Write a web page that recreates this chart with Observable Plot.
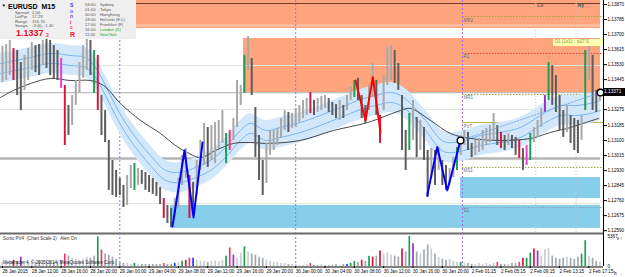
<!DOCTYPE html>
<html><head><meta charset="utf-8">
<script src="https://cdn.jsdelivr.net/npm/d3@7"></script>
<script src="https://cdn.jsdelivr.net/npm/@observablehq/plot@0.6"></script>
<style>
body{margin:0;background:#fff;}
#wrap{position:relative;width:625px;height:277px;overflow:hidden;font-family:"Liberation Sans",Arial,sans-serif;background:#fff;}
#wrap svg{position:absolute;left:0;}
.t{position:absolute;white-space:pre;line-height:1;}
</style></head><body><div id="wrap"></div>
<script>
// ---------------- DATA ----------------
const xTickHours = [0,4,8,12,16,20,24,28,32,36,40,44,48,52,56,60,64,68,72,76,80];
const xTickLabels = ["28 Jan 2015","28 Jan 12:00","28 Jan 16:00","28 Jan 20:00","29 Jan 00:00","29 Jan 04:00","29 Jan 08:00","29 Jan 12:00","29 Jan 16:00","29 Jan 20:00","30 Jan 00:00","30 Jan 04:00","30 Jan 08:00","30 Jan 12:00","30 Jan 16:00","30 Jan 20:00","2 Feb 01:15","2 Feb 05:15","2 Feb 09:15","2 Feb 13:15","2 Feb 17:15"];
// 1.13360 is hidden behind the current-price box in the reference
const yTickValues = [1.13870,1.13785,1.13700,1.13615,1.13530,1.13445,1.13275,1.13185,1.13100,1.13015,1.12930,1.12845,1.12760,1.12675,1.12590];
const yTickLabels = ["1.13870","1.13785","1.13700","1.13615","1.13530","1.13445","1.13275","1.13185","1.13100","1.13015","1.12930","1.12845","1.12760","1.12675","1.12590"];
const currentPrice = 1.13371;

// price bars, one every 30 minutes (hour = index / 2)
const barHigh = [1.13633,1.13644,1.13667,1.13621,1.13610,1.13542,1.13582,1.13621,1.13655,1.13638,
1.13644,1.13667,1.13678,1.13667,1.13638,1.13610,1.13565,1.13412,1.13299,1.13355,
1.13440,1.13542,1.13638,1.13689,1.13667,1.13610,1.13582,1.13355,1.13270,1.13101,
1.12987,1.12931,1.12886,1.12846,1.12902,1.12959,1.12970,1.12942,1.12931,1.12919,
1.12902,1.12886,1.12863,1.12835,1.12772,1.12733,1.12716,1.12772,1.12886,1.13016,
1.13055,1.12902,1.12863,1.12987,1.13101,1.13197,1.13174,1.13185,1.13202,1.13214,
1.13270,1.13140,1.13157,1.13225,1.13440,1.13412,1.13582,1.13689,1.13565,1.13287,
1.13129,1.12987,1.13084,1.13157,1.13157,1.13169,1.13225,1.13270,1.13259,1.13253,
1.13282,1.13299,1.13327,1.13338,1.13372,1.13327,1.13338,1.13350,1.13355,1.13338,
1.13316,1.13304,1.13327,1.13299,1.13355,1.13401,1.13440,1.13452,1.13355,1.13299,
1.13412,1.13536,1.13440,1.13242,1.13468,1.13627,1.13638,1.13610,1.13536,1.13355,
1.13157,1.13253,1.13327,1.13231,1.13214,1.13174,1.13044,1.13055,1.13044,1.13061,
1.12987,1.12959,1.12942,1.13004,1.13061,1.13129,1.13157,1.13146,1.13084,1.13101,
1.13112,1.13157,1.13169,1.13185,1.13253,1.13185,1.13146,1.13129,1.13140,1.13129,
1.13118,1.13101,1.13055,1.13072,1.13140,1.13174,1.13214,1.13282,1.13355,1.13542,
1.13525,1.13468,1.13355,1.13270,1.13299,1.13242,1.13225,1.13214,1.13242,1.13610,
1.13638,1.13582,1.13384,1.13395];
const barLow = [1.13429,1.13440,1.13468,1.13440,1.13355,1.13270,1.13384,1.13440,1.13497,1.13485,
1.13468,1.13525,1.13508,1.13468,1.13452,1.13440,1.13395,1.13072,1.13129,1.13185,
1.13299,1.13372,1.13452,1.13497,1.13468,1.13367,1.13270,1.13129,1.13089,1.12818,
1.12789,1.12778,1.12789,1.12721,1.12733,1.12829,1.12818,1.12846,1.12852,1.12818,
1.12806,1.12795,1.12784,1.12738,1.12659,1.12631,1.12608,1.12648,1.12716,1.12846,
1.12886,1.12659,1.12693,1.12789,1.12931,1.12959,1.12948,1.12987,1.12970,1.13055,
1.13084,1.12970,1.13044,1.13101,1.13174,1.13299,1.13367,1.13497,1.13355,1.13004,
1.12874,1.12789,1.12857,1.13016,1.13044,1.13072,1.13112,1.13157,1.13146,1.13169,
1.13174,1.13202,1.13225,1.13242,1.13253,1.13242,1.13259,1.13270,1.13282,1.13259,
1.13242,1.13225,1.13214,1.13225,1.13270,1.13327,1.13344,1.13327,1.13225,1.13197,
1.13270,1.13344,1.13242,1.13084,1.13270,1.13412,1.13440,1.13423,1.13384,1.13044,
1.12931,1.13044,1.13101,1.13004,1.13044,1.12987,1.12778,1.12886,1.12846,1.12931,
1.12846,1.12818,1.12846,1.12891,1.12931,1.13016,1.13072,1.13044,1.13004,1.13016,
1.13033,1.13044,1.13072,1.13089,1.13101,1.13072,1.13055,1.13044,1.13072,1.13055,
1.13016,1.12999,1.12931,1.12959,1.12987,1.13089,1.13118,1.13174,1.13259,1.13327,
1.13299,1.13259,1.13157,1.13118,1.13146,1.13084,1.13044,1.13027,1.13101,1.13270,
1.13440,1.13270,1.13259,1.13327];
const barSignal = {3:"r",16:"m",17:"r",25:"g",26:"r",36:"g",44:"r",51:"r",61:"g",62:"k",66:"g",84:"r",96:"g",103:"r",111:"g",124:"g",136:"r",141:"r",143:"m",144:"g",148:"p",149:"g",159:"g"};

const volume = [740,740,925,1110,925,1665,925,740,925,740,
925,740,1110,925,740,925,1110,2220,1850,1480,
1295,1110,1295,1665,1480,1850,5300,2960,2220,2035,
1665,1295,740,555,555,370,555,370,370,370,
370,370,370,370,555,370,370,555,740,925,
1110,1480,1480,1110,925,925,740,925,925,925,
1110,1850,3330,2035,1480,2405,3515,2590,2220,2035,
1665,1480,1110,925,740,740,555,555,370,370,
370,185,185,370,555,185,185,370,185,185,
185,370,185,370,370,555,925,740,1110,925,
1850,1665,1850,2775,2220,2405,2035,1850,1665,3145,
2590,5367,4070,2590,2220,2960,3885,3145,2220,1665,
1295,1110,1295,925,740,740,555,555,370,370,
555,370,555,370,555,740,370,370,370,555,
555,740,1480,1480,2405,3145,2775,1850,2960,3145,
1850,1480,1295,1480,1665,1480,1295,1665,2220,4625,
1850,1480,925,740];
const volumeMax = 5367;
const volSignal = {3:"r",5:"p",17:"k",26:"g",27:"k",36:"g",44:"k",47:"b",49:"g",50:"r",51:"k",52:"b",61:"g",62:"k",63:"p",66:"g",84:"k",94:"b",95:"g",96:"g",98:"r",100:"g",101:"r",103:"r",109:"r",111:"g",112:"p",125:"g",135:"k",141:"k",142:"r",143:"g",144:"g",145:"r",146:"p",158:"g",159:"g"};

// moving average
const maHour = [-0.27,1.50,3.82,6.55,9.28,12.00,13.78,16.10,18.83,21.56,23.60,24.97,27.01,29.06,31.51,33.83,36.15,40.65,45.16,49.80,54.30,55.66,58.39,61.12,63.85,67.94,72.03,74.76,77.49,79.54,81.31];
const maPrice = [1.13344,1.13384,1.13423,1.13452,1.13440,1.13440,1.13412,1.13310,1.13214,1.13140,1.13072,1.13038,1.13004,1.13044,1.13084,1.13089,1.13084,1.13101,1.13157,1.13202,1.13270,1.13282,1.13214,1.13140,1.13112,1.13101,1.13112,1.13146,1.13174,1.13202,1.13225];

// channel band
const bandHour = [-0.27,3.82,6.55,9.28,11.32,12.69,14.05,15.42,17.46,20.19,22.24,24.28,26.33,28.38,30.42,32.47,33.83,35.88,37.93,40.65,43.38,46.11,48.84,50.89,52.93,54.30,55.66,57.71,60.16,62.48,65.21,67.94,70.67,73.40,76.13,78.17,80.22,81.58];
const bandMid = [1.13508,1.13542,1.13565,1.13553,1.13542,1.13485,1.13384,1.13270,1.13129,1.12987,1.12903,1.12891,1.12919,1.12959,1.13033,1.13129,1.13169,1.13129,1.13146,1.13174,1.13214,1.13259,1.13304,1.13327,1.13344,1.13327,1.13282,1.13186,1.13067,1.13067,1.13101,1.13118,1.13146,1.13214,1.13270,1.13270,1.13282,1.13299];
const bandUpper = [1.13593,1.13627,1.13650,1.13638,1.13627,1.13570,1.13468,1.13355,1.13214,1.13072,1.12987,1.12976,1.13004,1.13044,1.13118,1.13214,1.13253,1.13214,1.13231,1.13259,1.13299,1.13344,1.13389,1.13412,1.13429,1.13412,1.13367,1.13270,1.13152,1.13152,1.13186,1.13202,1.13231,1.13299,1.13355,1.13355,1.13367,1.13384];
const bandLower = [1.13423,1.13457,1.13480,1.13468,1.13457,1.13401,1.13299,1.13186,1.13044,1.12903,1.12818,1.12806,1.12835,1.12874,1.12948,1.13044,1.13084,1.13044,1.13061,1.13089,1.13129,1.13174,1.13219,1.13242,1.13259,1.13242,1.13197,1.13101,1.12982,1.12982,1.13016,1.13033,1.13061,1.13129,1.13186,1.13186,1.13197,1.13214];

// zigzags
const zigHour  = [23.19,24.83,26.06,27.29, 57.94,59.31,60.67,62.48];
const zigPrice = [1.12614,1.13044,1.12665,1.13089, 1.12789,1.13063,1.12818,1.13101];
const zigGroup = [1,1,1,1,2,2,2,2];
const redZigHour  = [48.16,49.52,50.52,51.57];
const redZigPrice = [1.13440,1.13214,1.13459,1.13148];
const signalHour  = [62.48,81.58];
const signalPrice = [1.13101,1.13372];

// supply / demand zones
const zoneStart  = [-0.27,32.88,62.48,22.92];
const zoneEnd    = [81.58,81.58,81.58,81.58];
const zoneTop    = [1.13893,1.13678,1.12891,1.12733];
const zoneBottom = [1.13734,1.13367,1.12772,1.12603];
const zoneKind   = ["supply","supply","demand","demand"];

// horizontal levels
const levelPrice = [1.13876,1.13751,1.13525,1.13372,1.13276,1.12999,1.12744];
const levelKind  = ["border","stripe","light","bid","light","gray","light"];
const pivotName  = ["MR2","R1","MR1","PVT","MS1","S1"];
const pivotPrice = [1.13802,1.13593,1.13361,1.13202,1.12948,1.12721];
const pivotStart = 62.75;
const daySeparators = [16,40,62.75];
const sessionHour = [72.75,78.25];
const sessionName = ["Lo","Ny"];

// ---------------- CHART ----------------
const xDomain = [-0.273, 81.99];
const yDomain = [1.12574, 1.13893];
const sig = {r:"#dc143c", g:"#1f9d55", p:"#9932cc", m:"#e040d8", k:"#ee3a72", b:"#1c3cff"};
const zoneFill = {supply:"#ffa47c", demand:"#87ceeb"};
const levelStyle = {
  border:{stroke:"#6b3a2a", w:1}, stripe:{stroke:"#ffc6aa", w:2}, light:{stroke:"#dde9dc", w:1},
  bid:{stroke:"#bdbdbd", w:1.2}, gray:{stroke:"#b4b4b4", w:2.5}
};
const pivotStyle = {MR2:["#a0a030","1.5,1.5"],R1:["#e04040","1.5,1.5"],MR1:["#a0a030","1.5,1.5"],PVT:["#b8b040",null],MS1:["#a0a030","1.5,1.5"],S1:["#80a0b0","1.5,1.5"]};

const bars = barHigh.map((hi,k)=>{
  const lo = barLow[k], mid=(hi+lo)/2;
  const prev = k ? (barHigh[k-1]+barLow[k-1])/2 : mid;
  return {h:k*0.5, hi, lo, up: mid>=prev, s: barSignal[k]};
});
bars.forEach(b=> b.c = b.s ? sig[b.s] : (b.up ? "#a8a8a8" : "#5c5c5c"));
const vols = volume.map((v,k)=>({h:k*0.5, v, c: volSignal[k] ? sig[volSignal[k]] : (bars[k].up ? "#c9cdd2" : "#a4a8ae")}));
const zones = zoneStart.map((s,i)=>({x1:s, x2:zoneEnd[i], y1:zoneTop[i], y2:zoneBottom[i], fill:zoneFill[zoneKind[i]]}));
const levels = levelPrice.map((p,i)=>({p, st:levelStyle[levelKind[i]]}));
const pivots = pivotPrice.map((p,i)=>({p, name:pivotName[i], stroke:pivotStyle[pivotName[i]][0], dash:pivotStyle[pivotName[i]][1]}));
const band = bandHour.map((h,i)=>({h, mid:bandMid[i], hi:bandUpper[i], lo:bandLower[i]}));
const ma = maHour.map((h,i)=>({h, p:maPrice[i]}));
const zig = zigHour.map((h,i)=>({h, p:zigPrice[i], g:zigGroup[i]}));
const redZig = redZigHour.map((h,i)=>({h, p:redZigPrice[i]}));
const signals = signalHour.map((h,i)=>({h, p:signalPrice[i]}));
const sessions = sessionHour.map((h,i)=>({h, name:sessionName[i]}));
const yLab = new Map(yTickValues.map((v,i)=>[v, yTickLabels[i]]));
const xLab = new Map(xTickHours.map((v,i)=>[v, xTickLabels[i]]));
const FONT = "Liberation Sans, Arial, sans-serif";

const main = Plot.plot({
  width:625, height:233, marginLeft:0, marginRight:22, marginTop:0, marginBottom:0,
  x:{domain:xDomain, axis:null}, y:{domain:yDomain, axis:null}, color:{type:"identity"},
  style:{background:"transparent", fontFamily:FONT, overflow:"visible", color:"#000"},
  marks:[
    Plot.rect(zones, {x1:"x1", x2:"x2", y1:"y1", y2:"y2", fill:"fill"}),
    ...levels.map(l=>Plot.ruleY([l.p], {x1:xDomain[0], x2:81.58, stroke:l.st.stroke, strokeWidth:l.st.w})),
    ...pivots.map(d=>Plot.ruleY([d.p], {x1:pivotStart, x2:81.99, stroke:d.stroke, strokeWidth:1, strokeDasharray:d.dash})),
    Plot.ruleX(daySeparators, {stroke:"#a070e0", strokeDasharray:"2,2", strokeWidth:1}),
    Plot.ruleX(sessions, {x:"h", stroke:"#c4c4c4", strokeDasharray:"1,2", strokeWidth:1}),
    Plot.areaY(band, {x:"h", y1:"lo", y2:"hi", fill:"#d3e7fb", curve:"catmull-rom"}),
    Plot.lineY(band, {x:"h", y:"mid", dy:-5, stroke:"#62aaf0", strokeWidth:0.8, curve:"catmull-rom"}),
    Plot.lineY(band, {x:"h", y:"mid", dy:5, stroke:"#62aaf0", strokeWidth:0.8, curve:"catmull-rom"}),
    Plot.line(ma, {x:"h", y:"p", stroke:"#1a1a1a", strokeWidth:0.8, curve:"catmull-rom"}),
    Plot.ruleX(bars, {x:"h", y1:"lo", y2:"hi", stroke:"c", strokeWidth:2}),
    Plot.line(signals, {x:"h", y:"p", stroke:"#6f9ee0", strokeWidth:0.8, strokeDasharray:"1.5,1.5"}),
    Plot.line(zig, {x:"h", y:"p", z:"g", stroke:"#0000ff", strokeWidth:2}),
    Plot.line(redZig, {x:"h", y:"p", stroke:"#ff0000", strokeWidth:2}),
    Plot.dot(signals, {x:"h", y:"p", r:3.3, stroke:"#000", strokeWidth:1.4, fill:"#fff"}),
    Plot.text(pivots, {x:()=>pivotStart, y:"p", text:"name", dx:1, dy:3.5, textAnchor:"start", fontSize:4.5, fill:"#707070"}),
    Plot.text(sessions, {x:"h", y:()=>yDomain[1], text:"name", dx:1.5, dy:5, textAnchor:"start", fontSize:5, fontWeight:"bold", fill:"#555"}),
    Plot.ruleX([xDomain[1]], {stroke:"#000", strokeWidth:1}),
    Plot.ruleY([yDomain[0]], {stroke:"#6a6a6a", strokeWidth:2}),
    Plot.axisY({anchor:"right", ticks:yTickValues, tickFormat:d=>yLab.get(d), tickSize:3, tickPadding:1, fontSize:4.6, textAnchor:"start"})
  ]
});
main.style.top = "0px";
wrap.appendChild(main);

const vol = Plot.plot({
  width:625, height:44, marginLeft:0, marginRight:22, marginTop:3, marginBottom:11,
  x:{domain:xDomain, axis:null}, y:{domain:[0, volumeMax], axis:null}, color:{type:"identity"},
  style:{background:"transparent", fontFamily:FONT, overflow:"visible", color:"#000"},
  marks:[
    Plot.ruleX(daySeparators, {y1:volumeMax*1.1, y2:0, stroke:"#a070e0", strokeDasharray:"2,2", strokeWidth:1}),
    Plot.ruleX(vols, {x:"h", y1:0, y2:"v", stroke:"c", strokeWidth:1.7}),
    Plot.ruleX([xDomain[1]], {y1:volumeMax*1.1, y2:0, stroke:"#000", strokeWidth:1}),
    Plot.ruleY([0], {dy:0.5, stroke:"#000", strokeWidth:1}),
    Plot.axisX({ticks:xTickHours, tickFormat:d=>xLab.get(d), tickSize:2, tickPadding:1, fontSize:4.6, textAnchor:"start"}),
    Plot.axisY({anchor:"right", ticks:[0, volumeMax], tickFormat:d=>String(d), tickSize:0, tickPadding:4, fontSize:4.6, textAnchor:"start"})
  ]
});
vol.style.top = "233px";
wrap.appendChild(vol);

// overlays (text)
const yPix = main.scale("y").apply(currentPrice);
function t(txt, x, y, css){ const d=document.createElement("div"); d.className="t"; d.textContent=txt; d.style.left=x+"px"; d.style.top=y+"px"; d.style.cssText+=css||""; wrap.appendChild(d); return d; }
const panel = document.createElement("div");
panel.style.cssText = "position:absolute;left:0;top:0;width:136px;height:39px;background:#efefef;";
wrap.appendChild(panel);
t("\u25BC", 1.5, 4, "font-size:4.5px;color:#000;");
t("EURUSD  M15", 8, 2.5, "font-size:7px;font-weight:bold;color:#000;");
[["Spread","1.00"],["LotPip","17.29"],["Range","155.70"],["Swaps","-3.00, -1.40"]].forEach((r,i)=>{
  t(r[0], 15, 10.6+i*4.6, "font-size:4.2px;color:#555;");
  t(r[1], 32, 10.6+i*4.6, "font-size:4.2px;color:#555;");
});
t("1.1337", 16, 28.8, "font-size:9px;font-weight:bold;color:#e8102a;");
t("3", 45.5, 31.5, "font-size:6px;color:#e8102a;");
[["S","#1e40ff",3,5],["o","#4a5cff",8.6,5],["n","#8040c0",14.2,5],["i","#e02080",19.8,5],["c","#ff2040",25,5],["R","#ff1040",30.5,7]].forEach(s=>{
  t(s[0], 70, s[2], "font-size:"+s[3]+"px;font-weight:bold;color:"+s[1]+";");
});
[["03:00","Sydney"],["01:00","Tokyo"],["00:00","HongKong"],["19:00","Helsinki (E.L)"],["17:00","Frankfurt (F)"],["16:00","London (D)"],["11:00","NewYork"]].forEach((r,i)=>{
  const col = i>=5 ? "#22a622" : "#555";
  t(r[0], 85, 3.3+i*5, "font-size:4.2px;color:#555;");
  t(r[1], 100, 3.3+i*5, "font-size:4.2px;color:"+col+";");
});
t("D1 (1x1) :  p27.9,", 553, 39, "font-size:4.5px;color:#8a8a50;background:#ffffb0;padding:1.2px 2px;width:46px;");
t("1.13371", 603, yPix-4, "font-size:4.8px;color:#fff;background:#000;padding:1.6px 1px;width:20px;");
t("Sonic PV4  (Chart Scale 2)   Alert On", 3, 236.5, "font-size:4.5px;color:#333;");
t("Metatrader 4, \u00A9 2005-2014, MetaQuotes Software Corp.", 3, 260.5, "font-size:4.5px;color:#222;");
</script>
</body></html>
